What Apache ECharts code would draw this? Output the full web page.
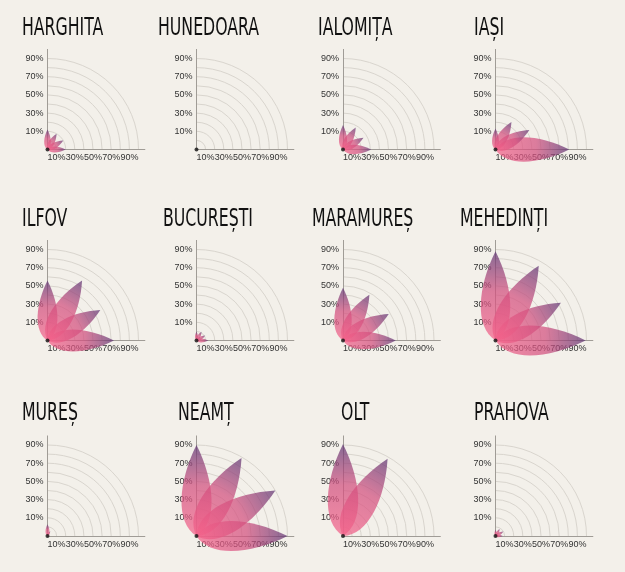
<!DOCTYPE html>
<html>
<head>
<meta charset="utf-8">
<script src="https://cdn.jsdelivr.net/npm/echarts@6/dist/echarts.min.js"></script>
<style>
  html, body { margin: 0; background: #f3f0ea; }
  #chart { width: 625px; height: 572px; }
</style>
</head>
<body>
<div id="chart"></div>
<script>
// counties, one small polar panel each
const counties = ['HARGHITA', 'HUNEDOARA', 'IALOMIȚA', 'IAȘI',
  'ILFOV', 'BUCUREȘTI', 'MARAMUREȘ', 'MEHEDINȚI',
  'MUREȘ', 'NEAMȚ', 'OLT', 'PRAHOVA'];
// petal directions (degrees from the x axis)
const petalAngles = [0, 30, 60, 90];
// petal lengths, same order as petalAngles
const petalValues = [
  [20, 20, 20, 22],
  [0, 0, 0, 0],
  [31, 26, 28, 27],
  [81, 43, 35, 23],
  [73, 67, 76, 66],
  [13, 11, 11, 10],
  [58, 58, 58, 58],
  [99, 83, 95, 98],
  [0, 0, 6, 13],
  [100, 100, 99, 100],
  [0, 0, 98, 101],
  [8, 10, 9, 7],
];
const xTickLabels = [10, 30, 50, 70, 90];
const yTickLabels = [10, 30, 50, 70, 90];

// layout
const colX = [47.5, 196.5, 343, 495.5];
const rowY = [149.5, 340.5, 536];
const titleX = [22, 158, 318, 474, 22, 163, 312, 460, 22, 178, 341, 474];
const titleY = [28, 219, 413];
const pxPerUnit = 0.91;
const XMAX = 107, YMAX = 110;
const font = '"Liberation Sans Narrow", "DejaVu Sans Condensed", sans-serif';
const labelFont = '"Liberation Sans", sans-serif';

const grid = [], xAxis = [], yAxis = [], polar = [], angleAxis = [], radiusAxis = [], series = [], titles = [];

counties.forEach((name, i) => {
  const ox = colX[i % 4];
  const oy = rowY[Math.floor(i / 4)];

  titles.push({
    type: 'text', x: titleX[i], y: titleY[Math.floor(i / 4)], scaleX: 0.7,
    style: {
      text: name, fontFamily: font, fontSize: 25, fill: '#111',
      verticalAlign: 'middle', align: 'left',
    },
  });

  grid.push({
    left: ox, top: oy - YMAX * pxPerUnit,
    width: XMAX * pxPerUnit, height: YMAX * pxPerUnit,
  });
  xAxis.push({
    gridIndex: i, type: 'value', min: 0, max: XMAX, interval: 10,
    axisLine: { lineStyle: { color: '#a09c96' } },
    axisTick: { show: false }, splitLine: { show: false },
    axisLabel: {
      showMaxLabel: false, margin: 4,
      fontFamily: labelFont, fontSize: 9, color: '#333',
      formatter: v => (xTickLabels.includes(v) ? `${v}%` : ''),
    },
  });
  yAxis.push({
    gridIndex: i, type: 'value', min: 0, max: YMAX, interval: 10,
    axisLine: { show: true, lineStyle: { color: '#a09c96' } },
    axisTick: { show: false }, splitLine: { show: false },
    axisLabel: {
      showMaxLabel: false, margin: 4,
      fontFamily: labelFont, fontSize: 9, color: '#333',
      formatter: v => (yTickLabels.includes(v - 10) ? `${v - 10}%` : ''),
    },
  });

  polar.push({ center: [ox, oy], radius: 100 * pxPerUnit });
  angleAxis.push({
    polarIndex: i, startAngle: 90, endAngle: 0, min: 0, max: 90,
    axisLine: { show: false }, axisTick: { show: false },
    axisLabel: { show: false }, splitLine: { show: false },
  });
  radiusAxis.push({
    polarIndex: i, min: 0, max: 100, interval: 10,
    axisLine: { show: false }, axisTick: { show: false }, axisLabel: { show: false },
    splitLine: { show: true, lineStyle: { color: '#d9d5ce', width: 1 } },
  });

  const pts = petalValues[i].map((v, k) => {
    const a = petalAngles[k] * Math.PI / 180;
    return [v * Math.cos(a), v * Math.sin(a), v];
  });

  series.push({
    type: 'custom',
    xAxisIndex: i, yAxisIndex: i,
    data: pts,
    z: 3,
    renderItem: (params, api) => {
      const o = api.coord([0, 0]);
      const t = api.coord([api.value(0), api.value(1)]);
      const dx = t[0] - o[0], dy = t[1] - o[1];
      const L = Math.hypot(dx, dy);
      if (L < 1) return null;
      const ux = dx / L, uy = dy / L, nx = -uy, ny = ux;
      const p = (a, b) => [o[0] + ux * a * L + nx * b * L, o[1] + uy * a * L + ny * b * L];
      const c1 = p(0.15, 0.24), c2 = p(0.6, 0.2), c3 = p(0.6, -0.2), c4 = p(0.15, -0.24);
      const path = `M${o[0]},${o[1]} C${c1[0]},${c1[1]} ${c2[0]},${c2[1]} ${t[0]},${t[1]} `
        + `C${c3[0]},${c3[1]} ${c4[0]},${c4[1]} ${o[0]},${o[1]} Z`;
      return {
        type: 'path',
        shape: { pathData: path },
        style: {
          fill: new echarts.graphic.LinearGradient(o[0], o[1], t[0], t[1], [
            { offset: 0, color: '#f4628a' },
            { offset: 0.55, color: '#d24f7e' },
            { offset: 1, color: '#5e3573' },
          ], true),
          opacity: 0.72,
        },
      };
    },
  });
  // origin dot
  series.push({
    type: 'scatter', xAxisIndex: i, yAxisIndex: i,
    data: [[0, 0]], symbolSize: 4, z: 5,
    itemStyle: { color: '#111' }, silent: true,
  });
});

const myChart = echarts.init(document.getElementById('chart'));
myChart.setOption({
  backgroundColor: '#f3f0ea',
  animation: false,
  graphic: titles,
  grid, xAxis, yAxis, polar, angleAxis, radiusAxis, series,
});
</script>
</body>
</html>
